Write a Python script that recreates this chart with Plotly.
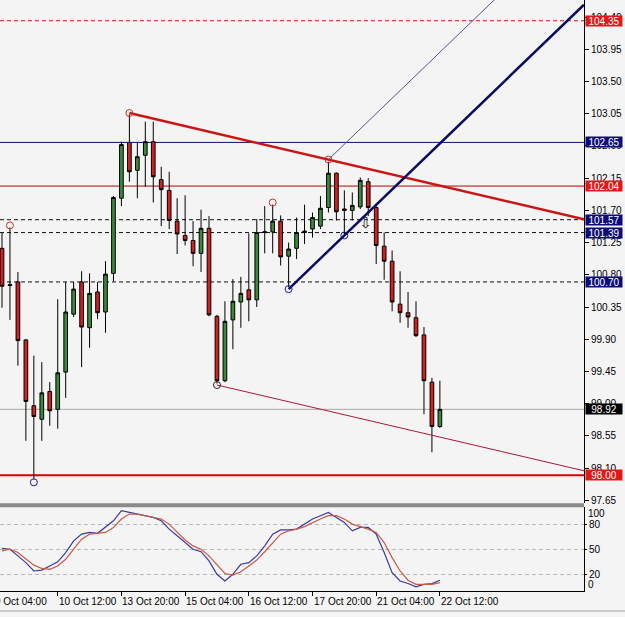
import plotly.graph_objects as go

# ---------------- data ----------------
bars = list(range(56))
opens = [101.17, 100.65, 100.70, 99.89, 98.97, 98.78, 99.17, 98.92, 99.44, 100.25,
         100.70, 100.06, 100.56, 100.28, 100.82, 101.87, 102.65, 102.26, 102.47, 102.66,
         102.13, 101.98, 101.55, 101.35, 101.28, 101.10, 101.45, 100.22, 99.32, 100.17,
         100.42, 100.59, 100.45, 101.39, 101.40, 101.55, 101.06, 101.17, 101.39, 101.44,
         101.48, 101.74, 102.22, 101.72, 101.70, 101.75, 102.10, 101.74, 101.20, 100.99,
         100.39, 100.27, 100.20, 99.96, 99.30, 98.68]
highs = [101.39, 101.46, 100.84, 99.90, 99.67, 99.58, 99.30, 100.46, 100.70, 100.70,
         100.85, 100.82, 100.70, 100.99, 101.90, 102.66, 103.04, 102.65, 102.94, 102.94,
         102.31, 102.24, 101.87, 101.91, 101.55, 101.71, 101.62, 100.24, 100.43, 100.74,
         100.77, 101.38, 101.58, 101.76, 101.78, 101.63, 101.25, 101.60, 101.78, 101.67,
         101.90, 102.38, 102.23, 101.98, 101.95, 102.16, 102.15, 101.76, 101.39, 101.14,
         100.85, 100.56, 100.43, 100.07, 99.36, 99.32]
lows = [100.34, 100.17, 99.53, 98.48, 97.94, 98.48, 98.69, 98.65, 99.08, 100.21,
        99.51, 99.78, 100.18, 99.99, 100.71, 101.76, 102.10, 101.87, 102.03, 101.81,
        101.48, 101.44, 101.09, 101.21, 100.92, 100.84, 100.22, 99.28, 99.30, 99.76,
        100.06, 100.15, 100.35, 101.10, 101.10, 100.93, 100.63, 101.02, 101.23, 101.32,
        101.44, 101.67, 101.56, 101.37, 101.56, 101.72, 101.62, 100.95, 100.73, 100.29,
        100.13, 100.06, 99.93, 98.85, 98.32, 98.66]
closes = [100.64, 100.66, 99.88, 99.03, 98.82, 99.15, 98.90, 99.43, 100.28, 100.60,
          100.07, 100.54, 100.27, 100.81, 101.88, 102.62, 102.24, 102.45, 102.66, 102.17,
          101.99, 101.56, 101.37, 101.28, 101.10, 101.45, 100.24, 99.32, 100.15, 100.43,
          100.54, 100.45, 101.39, 101.40, 101.55, 101.05, 101.16, 101.39, 101.41, 101.60,
          101.73, 102.22, 101.68, 101.70, 101.77, 102.12, 101.74, 101.21, 100.99, 100.42,
          100.27, 100.21, 99.95, 99.32, 98.68, 98.92]

stoch_k = [51, 50, 42, 34, 24, 25, 30, 35, 46, 60, 68, 70, 69, 76, 84, 96, 94, 92, 90, 88,
           84, 74, 66, 58, 50, 47, 36, 20, 12, 20, 32, 34, 42, 54, 68, 73, 73, 74, 80, 86,
           90, 94, 88, 82, 72, 76, 76, 68, 46, 22, 12, 9, 5, 8, 9, 13]
stoch_d = [48, 50, 46, 38, 31, 27, 26, 30, 38, 50, 62, 68, 69, 70, 76, 86, 92, 92, 90, 88,
           86, 80, 70, 61, 54, 50, 42, 32, 21, 19, 23, 30, 37, 47, 58, 68, 72, 74, 77, 82,
           86, 90, 90, 86, 80, 77, 74, 70, 58, 40, 24, 13, 8, 8, 8, 10]

tick_bars = [-1, 7, 15, 23, 31, 39, 47, 55]
tick_labels = ["9 Oct 04:00", "10 Oct 12:00", "13 Oct 20:00", "15 Oct 04:00",
               "16 Oct 12:00", "17 Oct 20:00", "21 Oct 04:00", "22 Oct 12:00"]
price_ticks = [97.65, 98.10, 98.55, 99.00, 99.45, 99.90, 100.35, 100.80, 101.25,
               101.70, 102.15, 102.60, 103.05, 103.50, 103.95, 104.40]
osc_ticks = [20, 50, 80]

level_prices = [104.35, 102.65, 102.04, 101.57, 101.39, 100.70, 98.92, 98.00]
level_colors = ["#d01010", "#10106e", "#c00000", "#101010", "#101010", "#101010", "#a8a8a8", "#d80000"]
level_dash = ["dash", "solid", "solid", "dash", "dash", "dash", "solid", "solid"]
level_width = [1, 1, 1, 1, 1, 1, 1, 2]
label_bg = ["#e01818", "#0c0c78", "#e01818", "#0c0c78", "#0c0c78", "#0c0c78", "#000000", "#e01818"]

red_circle_bars = [1, 16, 34, 41]
red_circle_prices = [101.49, 103.06, 101.81, 102.41]
navy_circle_bars = [4, 36, 43]
navy_circle_prices = [97.90, 100.60, 101.35]
dark_circle_bars = [27]
dark_circle_prices = [99.26]

resist_bars = [16, 41]
resist_prices = [103.06, 102.41]
resist_channel_bar = 27
resist_channel_price = 99.26
up_bars = [36, 43]
up_prices = [100.60, 101.35]
up_channel_bar = 41
up_channel_price = 102.41

arrow_bar = [45.7]
arrow_price = [101.50]

# ---------------- layout geometry ----------------
W, H = 625, 617
XR = [-0.25, 73.1]
XDOM = [0, 584 / W]
Y1DOM = [1 - 505 / H, 1]
Y2DOM = [1 - 593 / H, 1 - 509 / H]
YR = [97.606, 104.64]
FONT = "Tahoma, 'Liberation Sans', Arial, sans-serif"
BG = "#f4f4f4"

fig = go.Figure()

fig.add_trace(go.Candlestick(
    x=bars, open=opens, high=highs, low=lows, close=closes,
    increasing=dict(line=dict(color="black", width=1), fillcolor="#3b8a3b"),
    decreasing=dict(line=dict(color="black", width=1), fillcolor="#d42020"),
    whiskerwidth=0, showlegend=False, hoverinfo="skip",
    xaxis="x", yaxis="y"))


def extend(b0, p0, slope, b1):
    return [b0, b1], [p0, p0 + slope * (b1 - b0)]


rs = (resist_prices[1] - resist_prices[0]) / (resist_bars[1] - resist_bars[0])
us = (up_prices[1] - up_prices[0]) / (up_bars[1] - up_bars[0])

lines = [
    (extend(resist_bars[0], resist_prices[0], rs, XR[1]), "#cc1414", 2.5),
    (extend(resist_channel_bar, resist_channel_price, rs, XR[1]), "#a8183a", 1),
    (extend(up_bars[0], up_prices[0], us, XR[1]), "#0a0a60", 2.5),
    (extend(up_channel_bar, up_channel_price, us, XR[1]), "#55558a", 1),
]
for (xs, ys), col, wd in lines:
    fig.add_trace(go.Scatter(x=xs, y=ys, mode="lines", line=dict(color=col, width=wd),
                             showlegend=False, hoverinfo="skip", xaxis="x", yaxis="y"))

for bx, py, col in [(red_circle_bars, red_circle_prices, "#c83030"),
                    (navy_circle_bars, navy_circle_prices, "#1a1a90"),
                    (dark_circle_bars, dark_circle_prices, "#302030")]:
    fig.add_trace(go.Scatter(x=bx, y=py, mode="markers",
                             marker=dict(symbol="circle-open", size=7, color=col, line=dict(width=1, color=col)),
                             showlegend=False, hoverinfo="skip", xaxis="x", yaxis="y"))

fig.add_trace(go.Scatter(x=arrow_bar, y=arrow_price, mode="text", text=["⇩"],
                         textfont=dict(family="DejaVu Sans", size=15, color="#222222"),
                         showlegend=False, hoverinfo="skip", xaxis="x", yaxis="y"))

fig.add_trace(go.Scatter(x=bars, y=stoch_k, mode="lines", line=dict(color="#3a3a9e", width=1.2),
                         showlegend=False, hoverinfo="skip", xaxis="x2", yaxis="y2"))
fig.add_trace(go.Scatter(x=bars, y=stoch_d, mode="lines", line=dict(color="#c85a44", width=1.2),
                         showlegend=False, hoverinfo="skip", xaxis="x2", yaxis="y2"))

shapes = []
for p, c, d, w in zip(level_prices, level_colors, level_dash, level_width):
    shapes.append(dict(type="line", xref="x domain", x0=0, x1=1, yref="y", y0=p, y1=p,
                       line=dict(color=c, width=w, dash=("4px,3px" if d == "dash" else "solid")),
                       layer="below"))
# panel separator
shapes.append(dict(type="rect", xref="paper", x0=0, x1=584 / W, yref="paper",
                   y0=1 - 509 / H, y1=1 - 505 / H, fillcolor="#8a8a8a", line=dict(width=0)))
# bottom frame
shapes.append(dict(type="line", xref="paper", x0=0, x1=1, yref="paper",
                   y0=1 - 613 / H, y1=1 - 613 / H, line=dict(color="#a0a0a0", width=1)))

annotations = []
# price boxes (annotations sit above the axis tick labels, hiding them like the original)
for p, bg in zip(level_prices, label_bg):
    annotations.append(dict(xref="paper", x=585 / W, xanchor="left", yref="y", y=p, yanchor="middle",
                            text=f"{p:.2f}", showarrow=False, borderpad=0, bgcolor=bg,
                            width=36, height=10, align="center",
                            font=dict(family=FONT, size=10, color="white")))


def bar_to_paper(b):
    return XDOM[0] + (b - XR[0]) / (XR[1] - XR[0]) * (XDOM[1] - XDOM[0])


for b, t in zip(tick_bars, tick_labels):
    annotations.append(dict(xref="paper", x=bar_to_paper(b), xanchor="left",
                            yref="paper", y=1 - 603 / H, yanchor="middle", text=t,
                            showarrow=False, borderpad=0,
                            font=dict(family=FONT, size=10, color="black")))
annotations.append(dict(xref="paper", x=587 / W, xanchor="left", yref="y2", y=100, yanchor="top",
                        text="100", showarrow=False, borderpad=0, font=dict(family=FONT, size=10, color="black")))
annotations.append(dict(xref="paper", x=587 / W, xanchor="left", yref="y2", y=0, yanchor="bottom",
                        text="0", showarrow=False, borderpad=0, font=dict(family=FONT, size=10, color="black")))

fig.update_layout(
    width=W, height=H, margin=dict(l=0, r=0, t=0, b=0),
    paper_bgcolor=BG, plot_bgcolor=BG, showlegend=False, boxgap=0.34,
    xaxis=dict(domain=XDOM, range=XR, anchor="y", showticklabels=False, showgrid=False,
               zeroline=False, showline=False, ticks="", rangeslider=dict(visible=False),
               fixedrange=True),
    yaxis=dict(domain=Y1DOM, range=YR, anchor="x", side="right", tickvals=price_ticks,
               ticktext=[f"{v:.2f}" for v in price_ticks], ticks="outside", ticklen=4,
               tickcolor="black", showline=True, linecolor="black", linewidth=1,
               showgrid=False, zeroline=False, tickfont=dict(family=FONT, size=10, color="black")),
    xaxis2=dict(domain=XDOM, range=XR, anchor="y2", tickvals=tick_bars[1:], ticks="outside",
                ticklen=4, tickcolor="black", showticklabels=False, showline=True,
                linecolor="black", linewidth=1, showgrid=False, zeroline=False),
    yaxis2=dict(domain=Y2DOM, range=[0, 100], anchor="x2", side="right", tickvals=osc_ticks,
                ticks="outside", ticklen=2, tickcolor="black", showline=True, linecolor="black",
                linewidth=1, showgrid=True, gridcolor="#b8b8b8", griddash="4px,3px", gridwidth=1,
                zeroline=False, tickfont=dict(family=FONT, size=10, color="black")),
    shapes=shapes, annotations=annotations,
)

fig.write_html("out.html")
